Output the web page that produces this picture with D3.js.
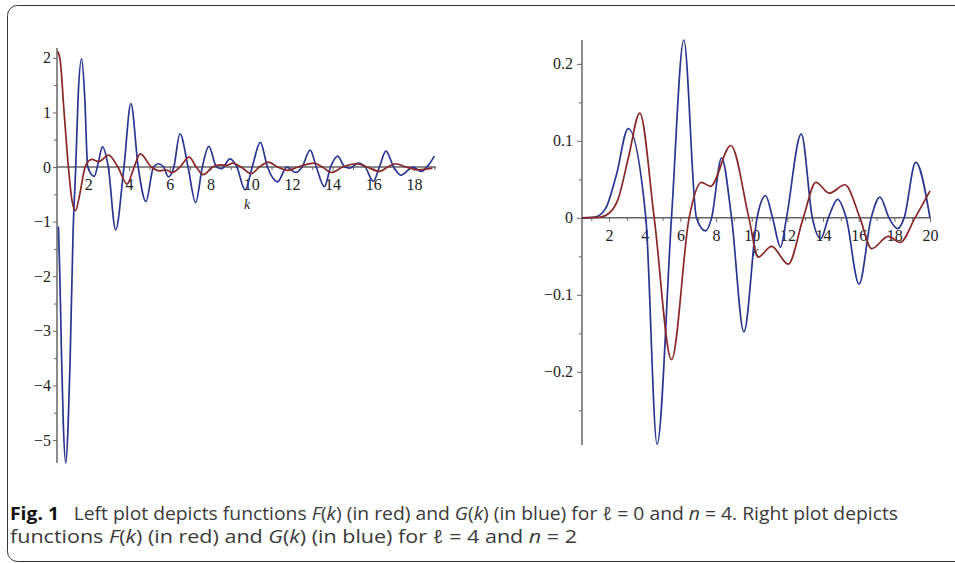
<!DOCTYPE html>
<html>
<head>
<meta charset="utf-8">
<script src="https://cdn.jsdelivr.net/npm/d3@7"></script>
<style>
  body { margin: 0; background: #fff; }
  svg { display: block; }
  .tick text { font-family: "Liberation Serif", "DejaVu Serif", serif; font-size: 16px; fill: #222; }
  .tick line { stroke: #666; stroke-width: 1; }
  .caption { font-family: "Open Sans", "Noto Sans", sans-serif; font-size: 18px; fill: #3a3a3a; }
</style>
</head>
<body>
<div id="chart"></div>
<script>
// Left plot: l = 0, n = 4  (k, value)
var leftF = [[0.50, 2.12], [0.62, 1.95], [0.80, 1.05], [1.02, 0], [1.20, -0.62], [1.37, -0.80], [1.55, -0.55],
  [1.84, 0], [2.02, 0.11], [2.17, 0.14], [2.50, 0.10], [3.00, 0.22], [3.45, 0], [3.90, -0.31], [4.25, 0],
  [4.55, 0.24], [5.10, 0], [5.50, -0.07], [5.80, -0.05], [6.10, -0.10], [6.50, 0], [6.95, 0.18], [7.30, 0],
  [7.65, -0.14], [8.10, 0], [8.50, 0.04], [8.80, 0.03], [9.10, 0.07], [9.50, 0], [10.0, -0.12], [10.4, 0],
  [10.85, 0.09], [11.3, 0], [11.8, -0.06], [12.3, 0], [13.1, 0.07], [13.5, 0], [13.95, -0.10], [14.5, 0],
  [15.2, 0.06], [15.7, 0], [16.3, -0.08], [16.7, 0], [17.1, 0.06], [17.6, 0], [18.2, -0.05], [18.9, -0.02]];

var leftG = [[0.53, -1.09], [0.60, -2.0], [0.68, -3.4], [0.77, -4.7], [0.89, -5.42], [1.00, -4.8], [1.10, -3.6],
  [1.25, -1.2], [1.38, 0], [1.50, 1.3], [1.67, 1.98], [1.82, 1.3], [1.97, 0], [2.29, -0.17], [2.50, 0.1],
  [2.69, 0.37], [2.98, 0], [3.34, -1.15], [3.75, 0], [4.09, 1.16], [4.45, 0], [4.83, -0.63], [5.20, 0],
  [5.44, 0.06], [5.70, 0], [5.93, -0.18], [6.20, 0], [6.50, 0.61], [6.90, 0], [7.27, -0.65], [7.60, 0],
  [7.92, 0.38], [8.30, 0], [8.55, -0.03], [8.96, 0.15], [9.30, 0], [9.70, -0.42], [10.05, 0], [10.45, 0.45],
  [10.8, 0], [11.3, -0.27], [11.75, 0], [12.2, -0.10], [12.5, 0], [12.9, 0.31], [13.2, 0], [13.6, -0.36],
  [13.9, 0], [14.25, 0.20], [14.6, 0], [14.85, -0.02], [15.25, 0.07], [15.6, 0], [16.0, -0.26], [16.3, 0],
  [16.62, 0.29], [17.0, 0], [17.35, -0.15], [17.95, 0], [18.35, -0.08], [18.7, 0.03], [19.0, 0.2]];

// Right plot: l = 4, n = 2
var rightF = [[0.48, 0], [1.5, 0.001], [2.0, 0.006], [2.5, 0.024], [3.1, 0.08], [3.72, 0.136], [4.53, 0],
  [5.5, -0.184], [6.49, 0], [7.18, 0.046], [7.69, 0.041], [8.83, 0.094], [9.84, 0], [10.36, -0.051],
  [11.11, -0.037], [12.05, -0.060], [12.89, 0], [13.6, 0.046], [14.35, 0.032], [15.23, 0.043], [16.07, 0],
  [16.73, -0.040], [17.66, -0.024], [18.32, -0.032], [19.16, 0], [20.0, 0.035]];

var rightG = [[0.48, 0], [1.2, 0.001], [1.8, 0.012], [2.4, 0.055], [3.07, 0.116], [4.06, 0], [4.69, -0.294],
  [5.5, 0], [6.19, 0.231], [6.9, 0], [7.41, -0.017], [7.75, 0], [8.31, 0.078], [8.87, 0], [9.56, -0.148],
  [10.3, 0], [10.78, 0.029], [11.17, 0], [11.62, -0.038], [11.95, 0], [12.78, 0.109], [13.4, 0],
  [13.87, -0.027], [14.3, 0], [14.82, 0.024], [15.3, 0], [16.02, -0.086], [16.7, 0], [17.19, 0.027],
  [17.7, 0], [18.19, -0.014], [18.55, 0], [19.2, 0.072], [20.0, 0]];

// tick values
var leftXMajor = [2, 4, 6, 8, 10, 12, 14, 16, 18];
var leftXMinor = [1, 3, 5, 7, 9, 11, 13, 15, 17, 19];
var leftYMajor = [2, 1, 0, -1, -2, -3, -4, -5];
var leftYMinor = [1.5, 0.5, -0.5, -1.5, -2.5, -3.5, -4.5];
var rightXMajor = [2, 4, 6, 8, 10, 12, 14, 16, 18, 20];
var rightXMinor = [1, 3, 5, 7, 9, 11, 13, 15, 17, 19];
var rightYMajor = [0.2, 0.1, 0, -0.1, -0.2];
var rightYMinor = [0.15, 0.05, -0.05, -0.15, -0.25];

var captionLine1 = ["Fig. 1", "Left plot depicts functions ", "F", "(", "k", ") (in red) and ", "G", "(", "k",
  ") (in blue) for ", "ℓ", " = 0 and ", "n", " = 4. Right plot depicts"];
var captionLine2 = ["functions ", "F", "(", "k", ") (in red) and ", "G", "(", "k", ") (in blue) for ",
  "ℓ", " = 4 and ", "n", " = 2"];
var italicBits = ["F", "G", "k", "ℓ", "n"];

var red = "#8b2626";
var blue = "#2a3592";

var width = 955, height = 563;

var svg = d3.select('#chart')
  .append('svg')
    .attr('width', width)
    .attr('height', height);

// frame
svg.append("rect")
  .attr("x", 7.5)
  .attr("y", 5.5)
  .attr("width", 1000)
  .attr("height", 556)
  .attr("rx", 10)
  .attr("fill", "none")
  .attr("stroke", "#333")
  .attr("stroke-width", 1);

function drawPlot(cfg) {
  var x = d3.scaleLinear().domain(cfg.xDomain).range(cfg.xRange);
  var y = d3.scaleLinear().domain(cfg.yDomain).range(cfg.yRange);
  var g = svg.append("g");

  // minor ticks
  g.append("g")
    .attr("transform", `translate(0,${y(0)})`)
    .call(d3.axisBottom(x).tickValues(cfg.xMinor).tickSize(3).tickFormat(""))
    .select(".domain").remove();
  g.append("g")
    .attr("transform", `translate(${cfg.xRange[0]},0)`)
    .call(d3.axisLeft(y).tickValues(cfg.yMinor).tickSize(3).tickFormat(""))
    .select(".domain").remove();

  // major ticks
  g.append("g")
    .attr("transform", `translate(0,${y(0)})`)
    .call(d3.axisBottom(x).tickValues(cfg.xMajor).tickSize(4).tickPadding(8).tickFormat(d3.format("d")))
    .select(".domain").remove();
  g.append("g")
    .attr("transform", `translate(${cfg.xRange[0]},0)`)
    .call(d3.axisLeft(y).tickValues(cfg.yMajor).tickSize(cfg.yTick).tickPadding(cfg.yPad).tickFormat(cfg.yFormat))
    .select(".domain").remove();

  // axis lines
  g.append("line")
    .attr("x1", cfg.xRange[0]).attr("x2", cfg.xRange[1])
    .attr("y1", y(0)).attr("y2", y(0))
    .attr("stroke", "#666").attr("stroke-width", 1.5);
  g.append("line")
    .attr("x1", cfg.xRange[0]).attr("x2", cfg.xRange[0])
    .attr("y1", cfg.yRange[0]).attr("y2", cfg.yRange[1])
    .attr("stroke", "#666").attr("stroke-width", 1.5);

  // k label
  g.append("text")
    .attr("x", x(cfg.kLabel[0]))
    .attr("y", y(0) + cfg.kLabel[1])
    .attr("text-anchor", "middle")
    .style("font-family", "Liberation Serif, serif")
    .style("font-style", "italic")
    .style("font-size", "14px")
    .style("fill", "#222")
    .text("k");

  var line = d3.line()
    .x(function(d) { return x(d[0]); })
    .y(function(d) { return y(d[1]); })
    .curve(d3.curveMonotoneX);

  g.append("path").datum(cfg.blue)
    .attr("d", line).attr("fill", "none").attr("stroke", blue).attr("stroke-width", 1.7);
  g.append("path").datum(cfg.red)
    .attr("d", line).attr("fill", "none").attr("stroke", red).attr("stroke-width", 1.7);
}

drawPlot({
  xDomain: [0.46, 19.08], xRange: [57, 436],
  yDomain: [-5.42, 2.18], yRange: [463, 48],
  xMajor: leftXMajor, xMinor: leftXMinor, yMajor: leftYMajor, yMinor: leftYMinor,
  yTick: 4, yPad: 2, yFormat: d3.format("d"),
  kLabel: [9.8, 42],
  red: leftF, blue: leftG
});

drawPlot({
  xDomain: [0.48, 20], xRange: [582, 930],
  yDomain: [-0.295, 0.231], yRange: [445, 40],
  xMajor: rightXMajor, xMinor: rightXMinor, yMajor: rightYMajor, yMinor: rightYMinor,
  yTick: 5, yPad: 4, yFormat: function(d) { return d === 0 ? "0" : d3.format(".1f")(d); },
  kLabel: [10.2, 38],
  red: rightF, blue: rightG
});

// caption
function captionLine(parts, yPos, len, boldFirst) {
  var t = svg.append("text")
    .attr("class", "caption")
    .attr("x", 10)
    .attr("y", yPos)
    .attr("textLength", len)
    .attr("lengthAdjust", "spacingAndGlyphs");
  parts.forEach(function(p, i) {
    var s = t.append("tspan").text(p);
    if (boldFirst && i === 0) {
      s.style("font-weight", "bold").style("fill", "#111");
      t.append("tspan").text("\u2002 ");
    }
    if (italicBits.indexOf(p) >= 0) s.style("font-style", "italic");
  });
}
captionLine(captionLine1, 520, 888, true);
captionLine(captionLine2, 543, 567, false);
</script>
</body>
</html>
